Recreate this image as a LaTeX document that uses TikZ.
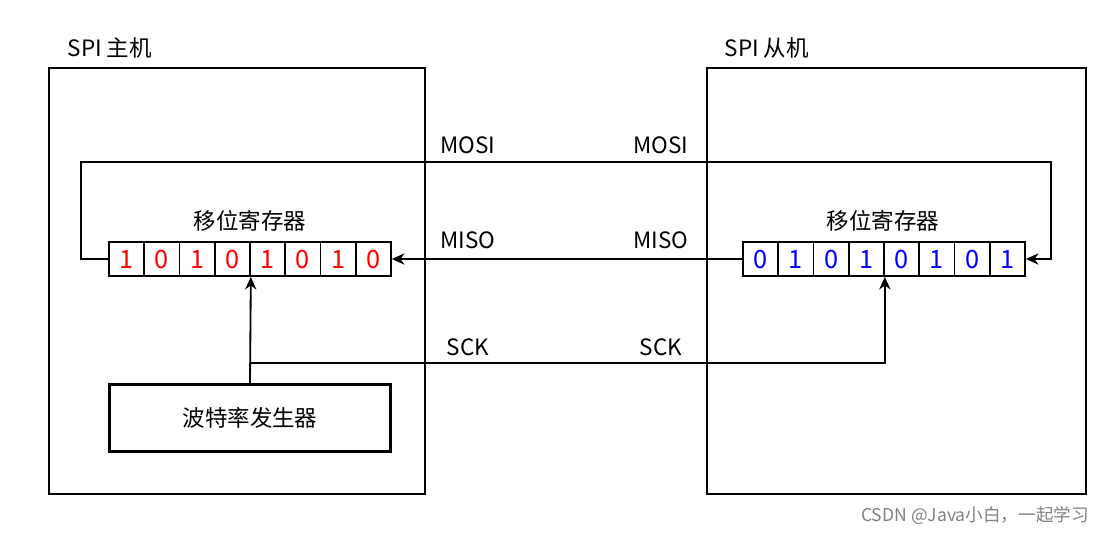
\documentclass[tikz,border=0pt]{standalone}
\usepackage{fontspec}
\setmainfont{Noto Sans CJK SC}
\usetikzlibrary{arrows.meta}
\tikzset{
	box/.style = {draw=black, line width=1.6pt},
	cell/.style = {draw=black, line width=1.2pt, minimum width=35.25*0.025cm, minimum height=34*0.025cm, inner sep=0pt, font=\fontsize{18}{20}\selectfont},
	wire/.style = {line width=1.3pt},
	lbl/.style = {font=\fontsize{16}{18}\selectfont, inner sep=1pt}
}
\begin{document}
\begin{tikzpicture}[x=0.025cm, y=-0.025cm, >={Stealth[length=9pt,width=8pt]}]
	\useasboundingbox (0,0) rectangle (1113,535);
	% the two devices
	\draw[box] (49,68) rectangle (425,494);
	\draw[box] (707,68) rectangle (1086,494);
	\node[lbl, anchor=west] (mtitle) at (66,48) {SPI 主机};
	\node[lbl, anchor=west] (stitle) at (723,48) {SPI 从机};
	% shift registers
	\foreach \b [count=\i] in {1,0,1,0,1,0,1,0}
		\node[cell, text=red] (m\i) at ({109+35.25*(\i-0.5)},259) {\b};
	\foreach \b [count=\i] in {0,1,0,1,0,1,0,1}
		\node[cell, text=blue] (s\i) at ({743+35.25*(\i-0.5)},259) {\b};
	\node[lbl] (mreg) at (250,221) {移位寄存器};
	\node[lbl] (sreg) at (883,221) {移位寄存器};
	% baud rate generator
	\node[box, minimum width=281*0.025cm, minimum height=67*0.025cm, lbl] (gen) at (250,418) {波特率发生器};
	% MOSI
	\coordinate (mosiA) at (81,162);
	\coordinate (mosiB) at (1051,162);
	\draw[wire, ->] (m1.west) -| (mosiA) -- (mosiB) |- (s8.east);
	% MISO
	\draw[wire, ->] (s1.west) -- (m8.east);
	% SCK
	\coordinate (sck) at (250,363);
	\draw[wire, ->] (gen.north) -- (m4.south east);
	\draw[wire, ->] (sck) -| (s4.south east);
	\node[lbl] at (468,145) {MOSI};
	\node[lbl] at (661,145) {MOSI};
	\node[lbl] at (468,240) {MISO};
	\node[lbl] at (661,240) {MISO};
	\node[lbl] at (468,347) {SCK};
	\node[lbl] at (661,347) {SCK};
	\node[font=\fontsize{12.5}{14}\selectfont, text=gray] at (975,516) {CSDN @Java小白，一起学习};
\end{tikzpicture}
\end{document}
